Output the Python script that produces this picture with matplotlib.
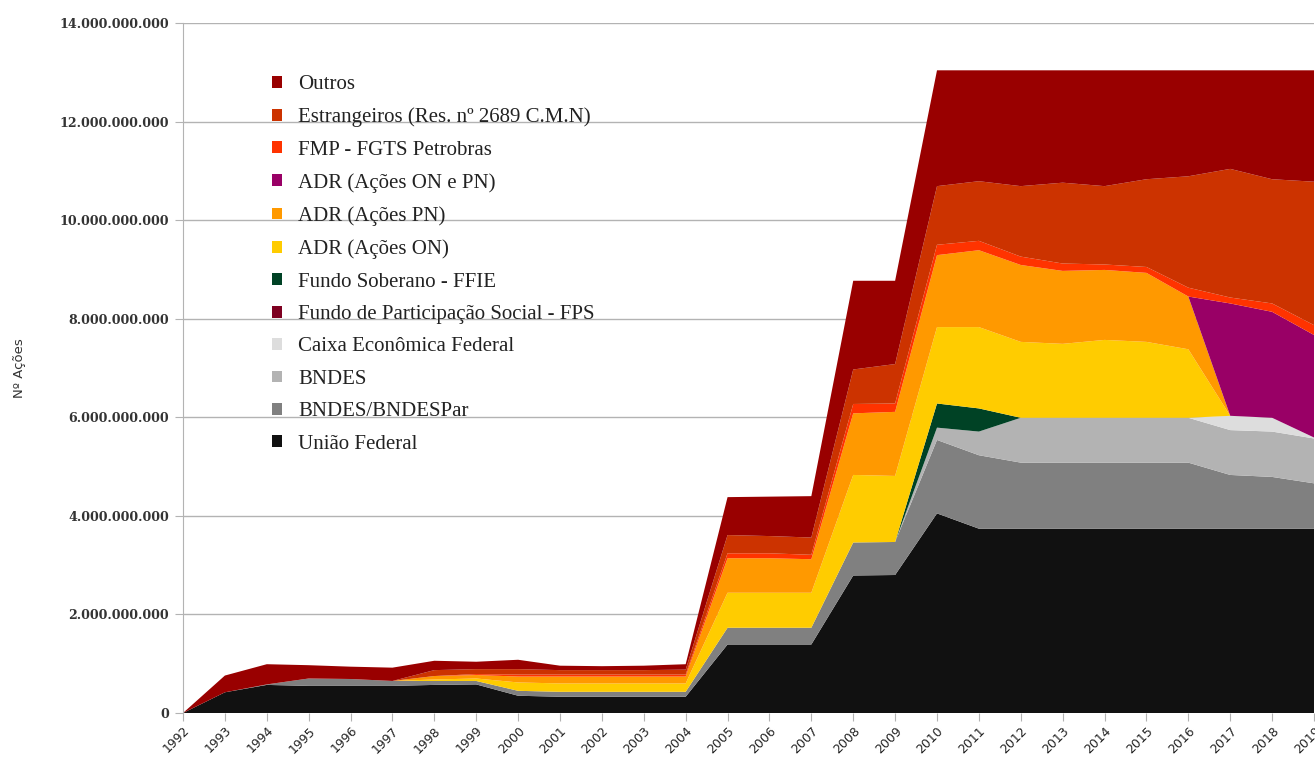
import matplotlib
matplotlib.use("Agg")
import matplotlib.pyplot as plt
from matplotlib.patches import Patch

# Years
years = list(range(1992, 2020))

# Values in billions of shares
uniao_federal = [0, 0.42, 0.57, 0.55, 0.55, 0.55, 0.57, 0.58, 0.35, 0.33, 0.33, 0.33, 0.33,
                 1.39, 1.39, 1.39, 2.79, 2.80, 4.05, 3.74, 3.74, 3.74, 3.74, 3.74, 3.74, 3.74, 3.74, 3.74]
bndes_bndespar = [0, 0, 0.01, 0.15, 0.14, 0.10, 0.08, 0.07, 0.10, 0.10, 0.10, 0.10, 0.10,
                  0.34, 0.34, 0.34, 0.67, 0.67, 1.49, 1.49, 1.34, 1.34, 1.34, 1.34, 1.34, 1.09, 1.05, 0.92]
bndes = [0]*18 + [0.25, 0.48, 0.91, 0.91, 0.91, 0.91, 0.91, 0.91, 0.92, 0.91]
caixa = [0]*25 + [0.29, 0.28, 0.02]
fps = [0]*28
ffie = [0]*18 + [0.49, 0.47] + [0]*8
adr_on = [0, 0, 0, 0, 0, 0, 0.03, 0.05, 0.17, 0.17, 0.17, 0.17, 0.17,
          0.71, 0.71, 0.71, 1.37, 1.34, 1.55, 1.65, 1.54, 1.50, 1.58, 1.54, 1.39, 0, 0, 0]
adr_pn = [0, 0, 0, 0, 0, 0, 0.07, 0.07, 0.12, 0.14, 0.14, 0.14, 0.14,
          0.70, 0.70, 0.68, 1.25, 1.30, 1.46, 1.56, 1.56, 1.48, 1.42, 1.40, 1.07, 0, 0, 0]
adr_on_pn = [0]*25 + [2.28, 2.15, 2.08]
fmp = [0, 0, 0, 0, 0, 0, 0, 0.02, 0.04, 0.04, 0.04, 0.04, 0.04,
       0.10, 0.10, 0.09, 0.19, 0.17, 0.21, 0.19, 0.17, 0.15, 0.11, 0.12, 0.18, 0.12, 0.17, 0.20]
estrangeiros = [0, 0, 0, 0, 0, 0, 0.12, 0.10, 0.11, 0.09, 0.09, 0.09, 0.10,
                0.37, 0.35, 0.35, 0.70, 0.80, 1.19, 1.21, 1.43, 1.64, 1.59, 1.78, 2.26, 2.61, 2.52, 2.91]
outros = [0, 0.34, 0.41, 0.27, 0.25, 0.27, 0.19, 0.15, 0.19, 0.09, 0.08, 0.09, 0.11,
          0.77, 0.80, 0.84, 1.80, 1.69, 2.35, 2.25, 2.35, 2.28, 2.35, 2.21, 2.15, 2.00, 2.21, 2.26]

series = [uniao_federal, bndes_bndespar, bndes, caixa, fps, ffie,
          adr_on, adr_pn, adr_on_pn, fmp, estrangeiros, outros]
labels = ["União Federal", "BNDES/BNDESPar", "BNDES", "Caixa Econômica Federal",
          "Fundo de Participação Social - FPS", "Fundo Soberano - FFIE",
          "ADR (Ações ON)", "ADR (Ações PN)", "ADR (Ações ON e PN)",
          "FMP - FGTS Petrobras", "Estrangeiros (Res. nº 2689 C.M.N)", "Outros"]
colors = ["#111111", "#808080", "#b3b3b3", "#dddddd", "#7e0021", "#004225",
          "#ffcc00", "#ff9900", "#990066", "#ff3300", "#cc3300", "#990000"]

y_ticks = [0, 2, 4, 6, 8, 10, 12, 14]

fig = plt.figure(figsize=(13.15, 7.58), dpi=100)
ax = fig.add_axes([183/1315, 45/758, (1314-183)/1315, (713-23)/758])

ax.stackplot(years, *series, colors=colors, linewidth=0, zorder=2)

ax.set_xlim(1992, 2019)
ax.set_ylim(0, 14)
ax.set_yticks(y_ticks)
ax.set_yticklabels([f"{int(v*1e9):,}".replace(",", ".") for v in y_ticks],
                   family="DejaVu Serif", fontweight="bold", fontsize=9.1, color="#333333")
ax.set_xticks(years)
ax.set_xticklabels([str(y) for y in years], rotation=45, ha="right", rotation_mode="anchor",
                   fontsize=9, color="#222222")
ax.grid(axis="y", color="#b3b3b3", linewidth=1, zorder=0)
ax.set_axisbelow(True)
for s in ["top", "right", "bottom"]:
    ax.spines[s].set_visible(False)
ax.spines["left"].set_color("#b3b3b3")
ax.tick_params(axis="both", direction="out", length=6, color="#b3b3b3")
ax.tick_params(axis="x", pad=2)
ax.tick_params(axis="y", pad=4)

ax.set_ylabel("Nº Ações", fontsize=9.5, color="#333333", labelpad=24)

handles = [Patch(facecolor=c, edgecolor="none") for c in colors][::-1]
leg = ax.legend(handles, labels[::-1], loc="upper left",
                bbox_to_anchor=(272/1315, (758-75)/758), bbox_transform=fig.transFigure,
                frameon=False, prop={"family": "Liberation Serif", "size": 15},
                borderaxespad=0, borderpad=0,
                handlelength=0.5, handleheight=0.5, handletextpad=0.77, labelspacing=0.645)
for t in leg.get_texts():
    t.set_color("#222222")

fig.savefig("out.png", dpi=100)
